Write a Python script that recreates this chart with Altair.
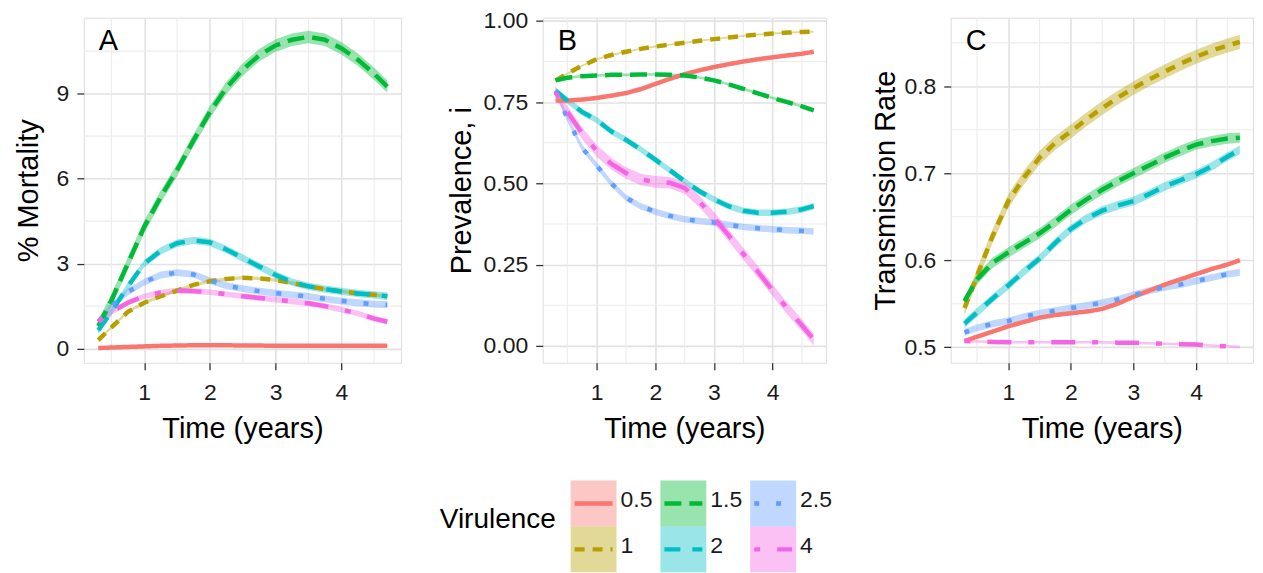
import altair as alt
import pandas as pd

# ---------------- data ----------------
TIME = [0.3, 0.5, 0.75, 1.0, 1.25, 1.5, 1.75, 2.0, 2.25, 2.5, 2.75, 3.0, 3.25, 3.5, 3.75, 4.0, 4.25, 4.5, 4.7]
VIRULENCE = ["0.5", "1", "1.5", "2", "2.5", "4"]
COLORS = ["#F8766D", "#B79F00", "#00BA38", "#00BFC4", "#619CFF", "#F564E3"]
DASHES = [[1, 0], [10, 8], [17, 8], [16, 12], [5, 17], [6, 17, 24, 17]]

# Panel A: % Mortality
MORT_05 = [0.02, 0.04, 0.06, 0.08, 0.10, 0.11, 0.12, 0.12, 0.12, 0.11, 0.11, 0.10, 0.10, 0.10, 0.10, 0.10, 0.10, 0.10, 0.10]
MORT_1 = [0.30, 0.75, 1.30, 1.62, 1.85, 2.05, 2.25, 2.38, 2.46, 2.50, 2.48, 2.42, 2.32, 2.20, 2.10, 2.02, 1.95, 1.90, 1.85]
MORT_15 = [0.80, 1.70, 3.00, 4.30, 5.35, 6.30, 7.35, 8.35, 9.20, 9.85, 10.35, 10.70, 10.90, 11.00, 10.90, 10.60, 10.20, 9.70, 9.25]
MORT_2 = [0.65, 1.30, 2.20, 3.00, 3.45, 3.72, 3.82, 3.75, 3.50, 3.20, 2.90, 2.60, 2.35, 2.20, 2.10, 2.02, 1.95, 1.90, 1.85]
MORT_25 = [0.95, 1.50, 2.00, 2.35, 2.60, 2.68, 2.62, 2.40, 2.22, 2.12, 2.03, 1.96, 1.90, 1.84, 1.76, 1.68, 1.62, 1.57, 1.55]
MORT_4 = [0.95, 1.30, 1.62, 1.85, 1.98, 2.05, 2.03, 1.99, 1.92, 1.85, 1.79, 1.73, 1.67, 1.60, 1.50, 1.38, 1.24, 1.06, 0.95]
MORT_BAND = [0.04, 0.06, 0.22, 0.13, 0.12, 0.10]

# Panel B: Prevalence
PREV_05 = [0.755, 0.755, 0.758, 0.763, 0.770, 0.778, 0.790, 0.806, 0.822, 0.836, 0.848, 0.858, 0.867, 0.875, 0.882, 0.888, 0.894, 0.899, 0.905]
PREV_1 = [0.817, 0.838, 0.862, 0.882, 0.895, 0.905, 0.914, 0.921, 0.927, 0.933, 0.939, 0.944, 0.949, 0.954, 0.958, 0.961, 0.964, 0.966, 0.967]
PREV_15 = [0.817, 0.825, 0.830, 0.832, 0.834, 0.834, 0.835, 0.835, 0.834, 0.832, 0.826, 0.817, 0.805, 0.791, 0.777, 0.763, 0.750, 0.737, 0.725]
PREV_2 = [0.785, 0.755, 0.720, 0.695, 0.660, 0.634, 0.605, 0.573, 0.540, 0.507, 0.476, 0.451, 0.430, 0.416, 0.410, 0.410, 0.413, 0.420, 0.430]
PREV_25 = [0.785, 0.700, 0.610, 0.555, 0.500, 0.456, 0.430, 0.413, 0.400, 0.390, 0.384, 0.380, 0.373, 0.366, 0.362, 0.359, 0.356, 0.354, 0.352]
PREV_4 = [0.780, 0.720, 0.655, 0.600, 0.560, 0.532, 0.512, 0.505, 0.502, 0.486, 0.445, 0.394, 0.340, 0.283, 0.228, 0.171, 0.115, 0.063, 0.020]
PREV_BAND = [0.004, 0.003, 0.004, 0.010, 0.010, 0.018]

# Panel C: Transmission rate
TRANS_05 = [0.507, 0.512, 0.518, 0.524, 0.529, 0.534, 0.537, 0.539, 0.541, 0.544, 0.550, 0.558, 0.565, 0.572, 0.578, 0.584, 0.590, 0.595, 0.600]
TRANS_1 = [0.545, 0.582, 0.628, 0.668, 0.695, 0.718, 0.735, 0.748, 0.762, 0.775, 0.787, 0.798, 0.808, 0.817, 0.826, 0.834, 0.841, 0.847, 0.851]
TRANS_15 = [0.553, 0.578, 0.597, 0.609, 0.620, 0.631, 0.644, 0.658, 0.670, 0.681, 0.691, 0.700, 0.709, 0.718, 0.726, 0.733, 0.737, 0.740, 0.741]
TRANS_2 = [0.527, 0.540, 0.556, 0.571, 0.587, 0.602, 0.620, 0.636, 0.648, 0.657, 0.663, 0.668, 0.676, 0.685, 0.692, 0.699, 0.708, 0.719, 0.727]
TRANS_25 = [0.517, 0.522, 0.527, 0.530, 0.535, 0.539, 0.542, 0.545, 0.548, 0.551, 0.555, 0.560, 0.565, 0.569, 0.572, 0.576, 0.580, 0.584, 0.586]
TRANS_4 = [0.507, 0.5065, 0.506, 0.5057, 0.5057, 0.5057, 0.5057, 0.5057, 0.5057, 0.5055, 0.5052, 0.505, 0.5045, 0.504, 0.5035, 0.503, 0.502, 0.501, 0.5004]
TRANS_BAND = [0.002, 0.008, 0.006, 0.005, 0.004, 0.0015]

X_TICKS = [1, 2, 3, 4]
X_MINOR = [0.5, 1.5, 2.5, 3.5, 4.5]

FONT = "Liberation Sans"
GRID_MAJOR = "#e2e2e2"
GRID_MINOR = "#ececec"

color_scale = alt.Scale(domain=VIRULENCE, range=COLORS)
dash_scale = alt.Scale(domain=VIRULENCE, range=DASHES)
XDOM = [0.08, 4.91]
PANEL_H = 346


def panel(series, bands, ydom, yticks, yminor, yfmt, ytitle, letter, width, title_pad):
    rows = []
    for v, ys, hw in zip(VIRULENCE, series, bands):
        for t, y in zip(TIME, ys):
            rows.append({"t": t, "y": y, "lo": y - hw, "hi": y + hw, "v": v})
    df = pd.DataFrame(rows)

    xs = alt.Scale(domain=XDOM, nice=False, zero=False)
    ys = alt.Scale(domain=ydom, nice=False, zero=False)
    xaxis = alt.Axis(values=X_TICKS, format="d", title="Time (years)", grid=True,
                     gridColor=GRID_MAJOR, gridWidth=1.6, domain=False,
                     tickColor="#333333", tickSize=7, tickWidth=1.3,
                     labelFontSize=23, labelColor="#1a1a1a", labelPadding=12,
                     titleFontSize=29, titleColor="#000000", titlePadding=10,
                     titleFontWeight="normal")
    yaxis = alt.Axis(values=yticks, format=yfmt, title=ytitle, grid=True,
                     gridColor=GRID_MAJOR, gridWidth=1.6, domain=False,
                     tickColor="#333333", tickSize=7, tickWidth=1.3,
                     labelFontSize=23, labelColor="#1a1a1a", labelPadding=8,
                     titleFontSize=29, titleColor="#000000", titlePadding=title_pad,
                     titleFontWeight="normal")

    xminor = alt.Chart(pd.DataFrame({"g": X_MINOR})).mark_rule(
        color=GRID_MINOR, strokeWidth=1.1).encode(
        x=alt.X("g:Q", scale=xs, axis=xaxis))
    yminor_l = alt.Chart(pd.DataFrame({"g": yminor})).mark_rule(
        color=GRID_MINOR, strokeWidth=1.1).encode(
        y=alt.Y("g:Q", scale=ys, axis=yaxis))

    base = alt.Chart(df)
    band = base.mark_area(opacity=0.4, clip=True).encode(
        x=alt.X("t:Q", scale=xs, axis=xaxis),
        y=alt.Y("lo:Q", scale=ys, axis=yaxis),
        y2="hi:Q",
        color=alt.Color("v:N", scale=color_scale, legend=None),
        detail="v:N",
    )
    line = base.mark_line(strokeWidth=4.5, strokeCap="butt", clip=True).encode(
        x=alt.X("t:Q", scale=xs, axis=xaxis),
        y=alt.Y("y:Q", scale=ys, axis=yaxis),
        color=alt.Color("v:N", scale=color_scale, legend=None),
        strokeDash=alt.StrokeDash("v:N", scale=dash_scale, legend=None),
    )
    label = alt.Chart(pd.DataFrame({"s": [letter]})).mark_text(
        align="left", baseline="alphabetic", fontSize=29, font=FONT, color="#000000"
    ).encode(x=alt.value(15), y=alt.value(32), text="s:N")

    return alt.layer(xminor, yminor_l, band, line, label).properties(width=width, height=PANEL_H)


pA = panel([MORT_05, MORT_1, MORT_15, MORT_2, MORT_25, MORT_4], MORT_BAND,
           [-0.5, 11.68], [0, 3, 6, 9], [1.5, 4.5, 7.5, 10.5], "d", "% Mortality", "A", 318, 13)
pB = panel([PREV_05, PREV_1, PREV_15, PREV_2, PREV_25, PREV_4], PREV_BAND,
           [-0.052, 1.01], [0, 0.25, 0.5, 0.75, 1.0], [0.125, 0.375, 0.625, 0.875], ".2f",
           "Prevalence, i", "B", 284, 7)
pC = panel([TRANS_05, TRANS_1, TRANS_15, TRANS_2, TRANS_25, TRANS_4], TRANS_BAND,
           [0.482, 0.879], [0.5, 0.6, 0.7, 0.8], [0.55, 0.65, 0.75, 0.85], ".1f",
           "Transmission Rate", "C", 303, 3)

# ---------------- legend (built from marks) ----------------
LEG_TITLE = "Virulence"
LW, LH = 1000, 110
KEY = 46
COL_DX = 90
KX0 = 488
KY0 = 27
leg_rows = []
for i, v in enumerate(VIRULENCE):
    col, row = i // 2, i % 2
    x0 = KX0 + col * COL_DX
    y0 = KY0 + row * KEY
    leg_rows.append({"v": v, "x0": x0, "x1": x0 + KEY, "y0": y0, "y1": y0 + KEY,
                     "lx0": x0 + 4, "lx1": x0 + KEY - 4, "ym": y0 + KEY / 2,
                     "tx": x0 + KEY + 4})
leg = pd.DataFrame(leg_rows)
lxs = alt.Scale(domain=[0, LW], nice=False, zero=False)
lys = alt.Scale(domain=[0, LH], nice=False, zero=False, reverse=True)
lbase = alt.Chart(leg)
keys = lbase.mark_rect(opacity=0.4).encode(
    x=alt.X("x0:Q", scale=lxs, axis=None), x2="x1:Q",
    y=alt.Y("y0:Q", scale=lys, axis=None), y2="y1:Q",
    color=alt.Color("v:N", scale=color_scale, legend=None))
klines = lbase.mark_rule(strokeWidth=4.5, strokeCap="butt").encode(
    x=alt.X("lx0:Q", scale=lxs, axis=None), x2="lx1:Q",
    y=alt.Y("ym:Q", scale=lys, axis=None),
    color=alt.Color("v:N", scale=color_scale, legend=None),
    strokeDash=alt.StrokeDash("v:N", scale=dash_scale, legend=None))
ktext = lbase.mark_text(align="left", baseline="middle", dy=-3, fontSize=23, font=FONT,
                        color="#1a1a1a").encode(
    x=alt.X("tx:Q", scale=lxs, axis=None),
    y=alt.Y("ym:Q", scale=lys, axis=None),
    text="v:N")
ttl = alt.Chart(pd.DataFrame({"s": [LEG_TITLE], "x": [KX0 - 15], "y": [KY0 + KEY]})).mark_text(
    align="right", baseline="middle", dy=-6, fontSize=28, font=FONT, color="#000000").encode(
    x=alt.X("x:Q", scale=lxs, axis=None), y=alt.Y("y:Q", scale=lys, axis=None), text="s:N")
legend = alt.layer(keys, klines, ktext, ttl).properties(
    width=LW, height=LH, view=alt.ViewBackground(stroke="transparent"))

top = alt.hconcat(pA, pB, pC, spacing=43)
chart = alt.vconcat(top, legend, spacing=8).properties(
    padding={"left": 5, "top": 0, "right": 0, "bottom": 0}
).configure_view(
    stroke="#555555", strokeWidth=1.3
).configure_axis(labelFont=FONT, titleFont=FONT).configure(background="white")

chart.save("out.html", embed_options={"renderer": "svg", "actions": False})
